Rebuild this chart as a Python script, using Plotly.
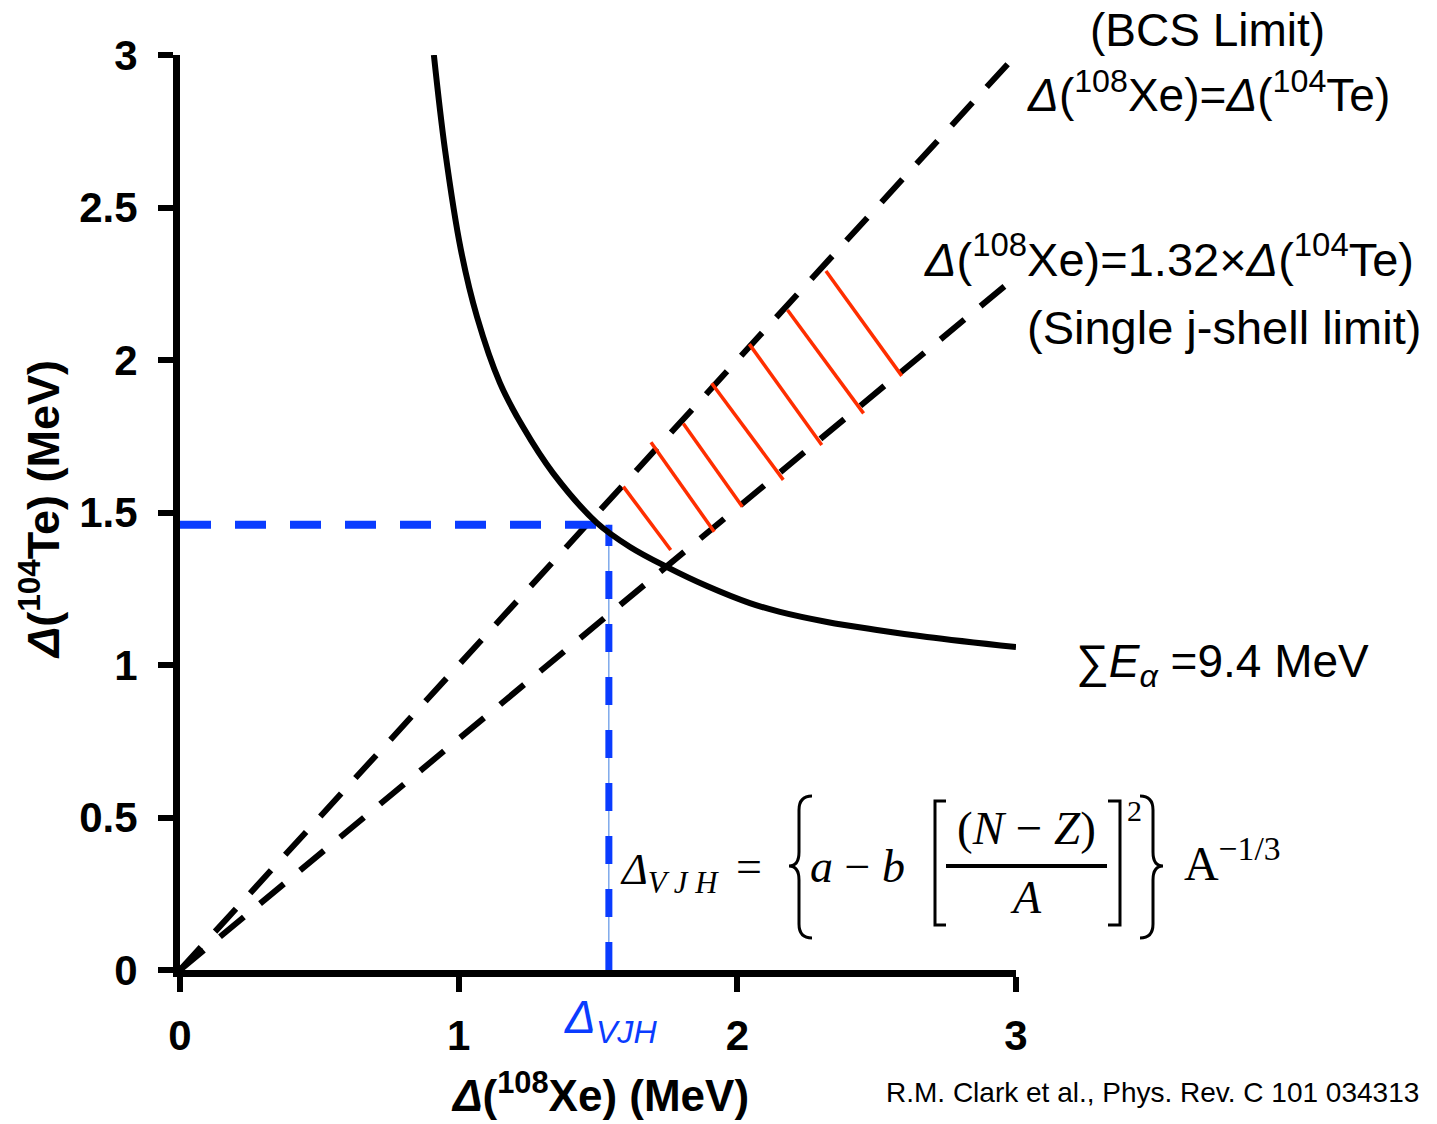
import plotly.graph_objects as go

# ---------------- data ----------------
curve_x = [0.911, 0.951, 1.008, 1.066, 1.148, 1.231, 1.338, 1.496, 1.615, 1.748,
           1.891, 2.045, 2.153, 2.322, 2.501, 2.681, 3.000]
curve_y = [3.000, 2.689, 2.361, 2.141, 1.925, 1.780, 1.630, 1.466, 1.387, 1.321,
           1.259, 1.203, 1.174, 1.141, 1.115, 1.092, 1.059]

bcs_x = [0.0, 3.0]
bcs_y = [0.0, 3.0]

jshell_x = [0.0, 3.0]
jshell_y = [0.0, 2.273]   # Δ(Xe) = 1.32 × Δ(Te)

hatch_x0 = [1.591, 1.690, 1.806, 1.908, 2.043, 2.180, 2.318]
hatch_y0 = [1.585, 1.730, 1.792, 1.924, 2.052, 2.164, 2.292]
hatch_x1 = [1.761, 1.917, 2.018, 2.165, 2.303, 2.453, 2.590]
hatch_y1 = [1.377, 1.437, 1.519, 1.607, 1.721, 1.825, 1.948]

vjh_x = 1.539
vjh_y = 1.460

x_ticks = [0, 1, 2, 3]
y_ticks = [0, 0.5, 1, 1.5, 2, 2.5, 3]

# ---------------- layout geometry ----------------
W, H = 1437, 1124
ML, MR, MT, MB = 180, 1437 - 1016, 55, 1124 - 970
PW, PH = W - ML - MR, H - MT - MB


def px(x):
    return (x - ML) / PW


def py(y):
    return (H - MB - y) / PH


fig = go.Figure()

# dashed limit lines
fig.add_trace(go.Scatter(x=bcs_x, y=bcs_y, mode="lines",
                         line=dict(color="black", width=6, dash="31px,21px"),
                         hoverinfo="skip"))
fig.add_trace(go.Scatter(x=jshell_x, y=jshell_y, mode="lines",
                         line=dict(color="black", width=6, dash="31px,21px"),
                         hoverinfo="skip"))

# red hatch
hx, hy = [], []
for a, b, c, d in zip(hatch_x0, hatch_y0, hatch_x1, hatch_y1):
    hx += [a, c, None]
    hy += [b, d, None]
fig.add_trace(go.Scatter(x=hx, y=hy, mode="lines",
                         line=dict(color="#FF2E00", width=3.5), hoverinfo="skip"))

# blue VJH guide lines
fig.add_trace(go.Scatter(x=[vjh_x, vjh_x], y=[0, vjh_y], mode="lines",
                         line=dict(color="#3D7EE0", width=1), hoverinfo="skip"))
fig.add_trace(go.Scatter(x=[0, vjh_x], y=[vjh_y, vjh_y], mode="lines",
                         line=dict(color="#0A3CFF", width=8, dash="31px,24px"),
                         hoverinfo="skip"))
fig.add_trace(go.Scatter(x=[vjh_x, vjh_x], y=[0, vjh_y], mode="lines",
                         line=dict(color="#0A3CFF", width=7, dash="28px,25px"),
                         hoverinfo="skip"))

# Sum E_alpha curve
fig.add_trace(go.Scatter(x=curve_x, y=curve_y, mode="lines",
                         line=dict(color="black", width=6, shape="spline", smoothing=1.0),
                         hoverinfo="skip"))

# ---------------- annotations ----------------
sans = "Liberation Sans, Arial, Helvetica, sans-serif"
serif = "Liberation Serif, Times New Roman, serif"
ann = []


def add_text(text, x, y, size, family=sans, color="black", xanchor="center",
             yanchor="middle", angle=0):
    ann.append(dict(text=text, x=px(x), y=py(y), xref="paper", yref="paper",
                    showarrow=False, xanchor=xanchor, yanchor=yanchor,
                    textangle=angle, font=dict(family=family, size=size, color=color)))


add_text("(BCS Limit)", 1207, 30, 46)
add_text("<i>Δ</i>(<sup>108</sup>Xe)=<i>Δ</i>(<sup>104</sup>Te)", 1208, 92, 46)
add_text("<i>Δ</i>(<sup>108</sup>Xe)=1.32×<i>Δ</i>(<sup>104</sup>Te)", 1169, 256, 47)
add_text("(Single j-shell limit)", 1224, 328, 47)
add_text("∑<i>E</i><sub><i>α</i></sub> =9.4 MeV", 1074, 664, 46, xanchor="left")

add_text("<b><i>Δ</i>(<sup>104</sup>Te) (MeV)</b>", 40, 510, 45, angle=-90)
add_text("<b><i>Δ</i>(<sup>108</sup>Xe) (MeV)</b>", 600, 1092, 44)
add_text("<i>Δ</i><sub><i>VJH</i></sub>", 562, 1020, 46, color="#0A3CFF", xanchor="left")
add_text("R.M. Clark et al., Phys. Rev. C 101 034313", 884, 1092, 28, xanchor="left")

# formula
add_text("<i>Δ</i><sub><i>V J H</i></sub>", 618, 872, 44, family=serif, xanchor="left")
add_text("=", 749, 866, 46, family=serif)
add_text("<i>a</i> − <i>b</i>", 808, 866, 46, family=serif, xanchor="left")
add_text("(<i>N</i> − <i>Z</i>)", 1026, 828, 47, family=serif)
add_text("<i>A</i>", 1026, 897, 46, family=serif)
add_text("2", 1134, 810, 30, family=serif)
add_text("A<sup>−1/3</sup>", 1182, 860, 48, family=serif, xanchor="left")


def pth(points):
    s = ""
    for cmd, pts in points:
        s += cmd + " " + " ".join(f"{px(a):.5f},{py(b):.5f}" for a, b in pts) + " "
    return s.strip()


def left_brace(xe, xi, xt, yt, ym, yb, r=14):
    return pth([("M", [(xe, yt)]), ("Q", [(xi, yt), (xi, yt + r)]),
                ("L", [(xi, ym - r)]), ("Q", [(xi, ym), (xt, ym)]),
                ("Q", [(xi, ym), (xi, ym + r)]), ("L", [(xi, yb - r)]),
                ("Q", [(xi, yb), (xe, yb)])])


def bracket(xe, xi, yt, yb):
    return pth([("M", [(xe, yt)]), ("L", [(xi, yt)]), ("L", [(xi, yb)]), ("L", [(xe, yb)])])


shapes = []
line_style = dict(color="black", width=3)
shapes.append(dict(type="path", xref="paper", yref="paper", line=line_style,
                   path=left_brace(812, 799, 789, 796, 866, 938)))
shapes.append(dict(type="path", xref="paper", yref="paper", line=line_style,
                   path=left_brace(1140, 1153, 1163, 796, 866, 938)))
shapes.append(dict(type="path", xref="paper", yref="paper", line=line_style,
                   path=bracket(946, 935, 801, 925)))
shapes.append(dict(type="path", xref="paper", yref="paper", line=line_style,
                   path=bracket(1108, 1120, 801, 925)))
shapes.append(dict(type="line", xref="paper", yref="paper",
                   x0=px(946), x1=px(1107), y0=py(866), y1=py(866),
                   line=dict(color="black", width=4)))

tickfont = dict(family=sans, size=42, color="black", weight="bold")
fig.update_layout(
    width=W, height=H,
    margin=dict(l=ML, r=MR, t=MT, b=MB, pad=0),
    paper_bgcolor="white", plot_bgcolor="white",
    showlegend=False,
    annotations=ann, shapes=shapes,
    xaxis=dict(range=[0, 3], tickvals=x_ticks, showgrid=False, zeroline=False,
               showline=True, linecolor="black", linewidth=7,
               ticks="outside", ticklen=15, tickwidth=6, tickcolor="black",
               tickfont=tickfont, ticklabelstandoff=8),
    yaxis=dict(range=[0, 3], tickvals=y_ticks, showgrid=False, zeroline=False,
               showline=True, linecolor="black", linewidth=7,
               ticks="outside", ticklen=15, tickwidth=6, tickcolor="black",
               tickfont=tickfont, ticklabelstandoff=12),
)

fig.write_html("out.html")
